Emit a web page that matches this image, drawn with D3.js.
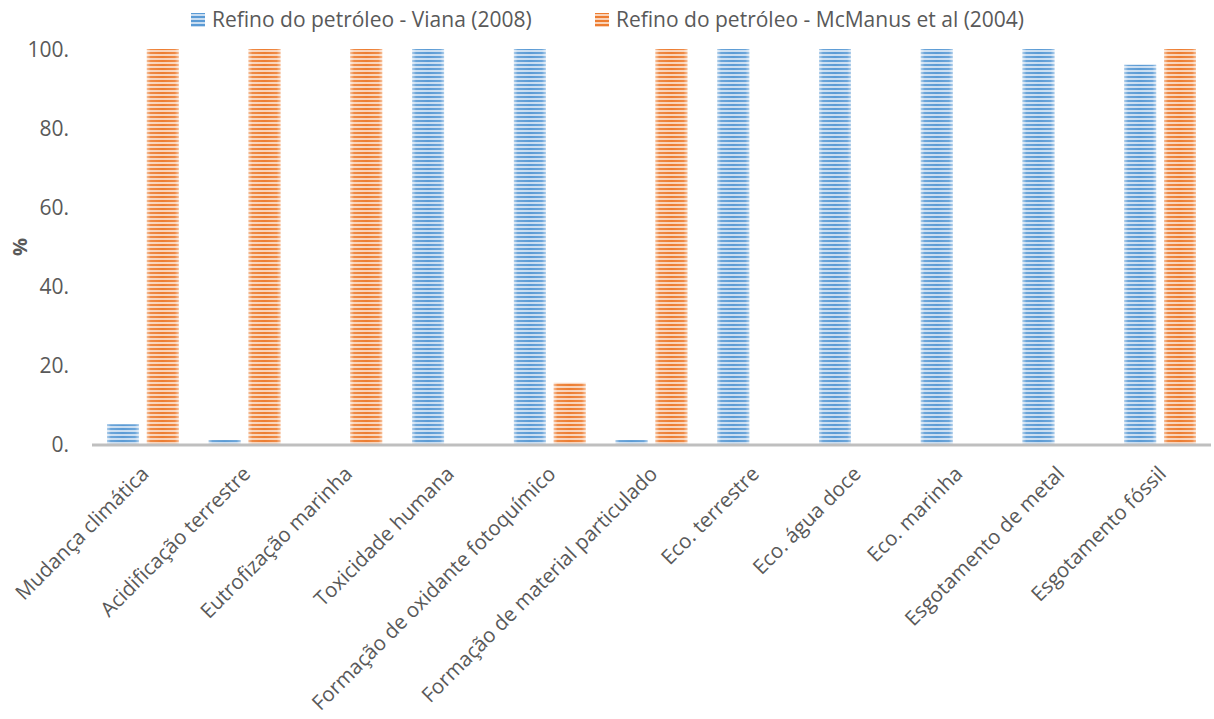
<!DOCTYPE html>
<html><head><meta charset="utf-8">
<script src="https://cdn.jsdelivr.net/npm/d3@7"></script>
<style>body{margin:0;background:#fff}svg text{font-family:"Open Sans",Lato,sans-serif;fill:#595959}</style>
</head><body>
<svg id="c" width="1214" height="719"></svg>
<script>
const categories = ["Mudança climática","Acidificação terrestre","Eutrofização marinha","Toxicidade humana","Formação de oxidante fotoquímico","Formação de material particulado","Eco. terrestre","Eco. água doce","Eco. marinha","Esgotamento de metal","Esgotamento fóssil"];
const seriesNames = ["Refino do petróleo - Viana (2008)","Refino do petróleo - McManus et al (2004)"];
const viana = [5,1,0,100,100,1,100,100,100,100,96];
const mcmanus = [100,100,100,0,15.5,100,0,0,0,0,100];
const yTicks = [0,20,40,60,80,100];
const tickLabels = ["0.","20.","40.","60.","80.","100."];
const colors = ["#5B9BD5","#ED7D31"];
const lights = ["#C9DDF1","#F9D3B9"];

const svg = d3.select("#c");
const defs = svg.append("defs");
colors.forEach((c,i)=>{
  const p = defs.append("pattern").attr("id","pat"+i).attr("patternUnits","userSpaceOnUse").attr("width",4).attr("height",4);
  p.append("rect").attr("width",4).attr("height",4).attr("fill",lights[i]);
  p.append("rect").attr("width",4).attr("height",2).attr("fill",c);
});
const g = defs.append("linearGradient").attr("id","edge").attr("x1","0").attr("x2","1").attr("y1","0").attr("y2","0");
[[0,0.5],[0.12,0.1],[0.5,0],[0.88,0.1],[1,0.5]].forEach(([o,a])=>g.append("stop").attr("offset",o).attr("stop-color","#fff").attr("stop-opacity",a));

const x = d3.scaleBand().domain(categories).range([92,1211]).paddingInner(0).paddingOuter(0);
const xs = d3.scaleBand().domain([0,1]).range([15, x.bandwidth()-15]).paddingInner(0.2);
const y = d3.scaleLinear().domain([0,100]).range([444,49]);

const data = [viana, mcmanus];
data.forEach((vals,si)=>{
  const sel = svg.append("g").selectAll("g").data(categories).join("g");
  sel.append("rect")
    .attr("x",(d,i)=>x(d)+xs(si)).attr("width",xs.bandwidth())
    .attr("y",(d,i)=>y(vals[i])).attr("height",(d,i)=>y(0)-y(vals[i]))
    .attr("fill","url(#pat"+si+")");
  sel.append("rect")
    .attr("x",(d,i)=>x(d)+xs(si)).attr("width",xs.bandwidth())
    .attr("y",(d,i)=>y(vals[i])).attr("height",(d,i)=>y(0)-y(vals[i]))
    .attr("fill","url(#edge)");
});

// baseline
svg.append("line").attr("x1",92).attr("x2",1211).attr("y1",y(0)+1).attr("y2",y(0)+1).attr("stroke","#BFBFBF").attr("stroke-width",3);

// y axis
const yAxis = d3.axisLeft(y).tickValues(yTicks).tickFormat((d,i)=>tickLabels[i]).tickSize(0).tickPadding(0);
const ya = svg.append("g").attr("transform","translate(69,0)").call(yAxis);
ya.select(".domain").remove();
ya.selectAll("text").attr("font-size",21).attr("font-family","'Open Sans',sans-serif").attr("fill","#595959").attr("dy","0.35em");

svg.append("text").attr("transform","translate(27,247) rotate(-90)").attr("text-anchor","middle")
  .attr("font-size",20).attr("font-weight","bold").text("%");

// x labels
svg.append("g").selectAll("text").data(categories).join("text")
  .attr("transform",d=>`translate(${x(d)+x.bandwidth()/2-3},465) rotate(-45)`)
  .attr("text-anchor","end").attr("font-size",20.5).attr("dy","0.7em").text(d=>d);

// legend
const lx = [191,595];
seriesNames.forEach((n,i)=>{
  svg.append("rect").attr("x",lx[i]).attr("y",13).attr("width",14).attr("height",14).attr("fill","url(#pat"+i+")");
  svg.append("text").attr("x",lx[i]+21).attr("y",27).attr("font-size",21).text(n);
});
</script>
</body></html>
